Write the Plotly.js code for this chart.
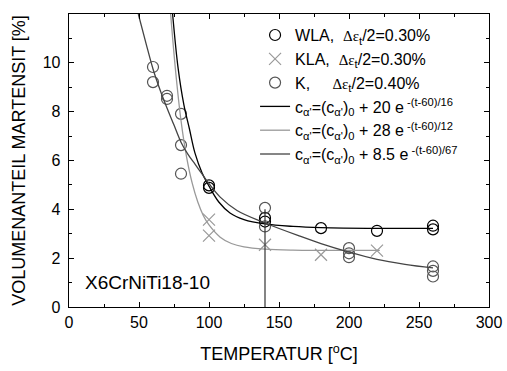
<!DOCTYPE html>
<html><head><meta charset="utf-8">
<script src="https://cdn.plot.ly/plotly-3.0.1.min.js"></script>
<style>html,body{margin:0;padding:0;background:#fff}#chart{width:507px;height:371px}</style>
</head><body><div id="chart"></div>
<script>
// Measured data
const wlaT = [100, 100, 140, 140, 180, 220, 260, 260];
const wlaV = [4.98, 4.88, 3.65, 3.5, 3.23, 3.12, 3.33, 3.18];
const klaT = [100, 100, 140, 180, 220];
const klaV = [3.58, 2.92, 2.55, 2.14, 2.31];
const kT = [60, 60, 70, 70, 80, 80, 80, 140, 140, 200, 200, 200, 260, 260, 260];
const kV = [9.83, 9.21, 8.65, 8.52, 7.91, 6.63, 5.46, 4.06, 3.3, 2.41, 2.2, 2.04, 1.66, 1.48, 1.25];
// Fit curves
const fitWlaT = [74, 78, 82, 86, 90, 95, 100, 107, 115, 125, 140, 160, 180, 220, 260];
const fitWlaV = [12.0, 9.75, 8.3, 7.3, 6.3, 5.5, 4.95, 4.3, 3.85, 3.58, 3.4, 3.3, 3.25, 3.22, 3.22];
const fitKlaT = [72.6, 76, 80, 84, 88, 92, 96, 100, 108, 116, 125, 140, 160, 180, 222];
const fitKlaV = [12.0, 9.75, 7.64, 6.14, 5.07, 4.3, 3.74, 3.36, 2.86, 2.6, 2.46, 2.37, 2.33, 2.32, 2.32];
const fitKT = [49.5, 55, 60, 65, 70, 75, 80, 85, 90, 95, 100, 108, 120, 140, 165, 180, 200, 220, 240, 260];
const fitKV = [12.0, 10.8, 9.75, 8.9, 8.15, 7.45, 6.75, 6.25, 5.85, 5.45, 5.05, 4.5, 3.95, 3.44, 2.9, 2.6, 2.25, 1.95, 1.75, 1.6];
const vlineT = [140, 140];
const vlineV = [0, 4.0];
const xTicks = [0, 50, 100, 150, 200, 250, 300];
const yTicks = [0, 2, 4, 6, 8, 10];
const yMinor = [1, 3, 5, 7, 9, 11];

const NB = '\u00A0';
const de = '<span style="font-family:\'Liberation Serif\';font-size:15px">Δε</span><sub>t</sub>/2=';
const traces = [
  {x: wlaT, y: wlaV, mode: 'markers', name: 'WLA,' + NB + NB + de + '0.30%',
   marker: {symbol: 'circle-open', size: 11, color: '#000', line: {width: 1.2, color: '#000'}}},
  {x: klaT, y: klaV, mode: 'markers', name: 'KLA,' + NB + NB + de + '0.30%',
   marker: {symbol: 'x-thin-open', size: 12, color: '#999', line: {width: 1.2, color: '#999'}}},
  {x: kT, y: kV, mode: 'markers', name: 'K,' + NB.repeat(5) + de + '0.40%',
   marker: {symbol: 'circle-open', size: 11, color: '#555', line: {width: 1.2, color: '#555'}}},
  {x: fitWlaT, y: fitWlaV, mode: 'lines', line: {color: '#000', width: 1.3, shape: 'spline'},
   name: "c<sub>α'</sub>=(c<sub>α'</sub>)<sub>0</sub> + 20 e<sup> -(t-60)/16</sup>"},
  {x: fitKlaT, y: fitKlaV, mode: 'lines', line: {color: '#999', width: 1.3, shape: 'spline'},
   name: "c<sub>α'</sub>=(c<sub>α'</sub>)<sub>0</sub> + 28 e<sup> -(t-60)/12</sup>"},
  {x: fitKT, y: fitKV, mode: 'lines', line: {color: '#444', width: 1.3, shape: 'spline'},
   name: "c<sub>α'</sub>=(c<sub>α'</sub>)<sub>0</sub> + 8.5 e<sup> -(t-60)/67</sup>"},
  {x: vlineT, y: vlineV, mode: 'lines', line: {color: '#333', width: 1.2}, showlegend: false, hoverinfo: 'skip'}
];

const axisCommon = {
  showgrid: false, zeroline: false, showline: true, linecolor: '#000', linewidth: 1.3,
  mirror: 'allticks', ticks: 'inside', ticklen: 5, tickwidth: 1, tickcolor: '#000',
  tickfont: {family: 'Arial, Liberation Sans, sans-serif', size: 16, color: '#000'}
};
const layout = {
  width: 507, height: 371,
  margin: {l: 69, r: 18, t: 14, b: 64},
  paper_bgcolor: '#fff', plot_bgcolor: '#fff',
  font: {family: 'Arial, Liberation Sans, sans-serif', color: '#000'},
  showlegend: true,
  legend: {x: 0.443, y: 0.986, xanchor: 'left', yanchor: 'top', bgcolor: 'rgba(0,0,0,0)',
    font: {size: 16, family: 'Arial, Liberation Sans, sans-serif'}, tracegroupgap: 0, itemwidth: 30},
  xaxis: Object.assign({}, axisCommon, {
    range: [0, 300], tickmode: 'array', tickvals: xTicks, ticktext: xTicks.map(String),
    minor: {dtick: 25, tick0: 0, ticks: 'inside', ticklen: 3, tickcolor: '#000'},
    title: {text: 'TEMPERATUR [<sup>o</sup>C]', font: {size: 18}, standoff: 18}
  }),
  yaxis: Object.assign({}, axisCommon, {
    range: [0, 12], tickmode: 'array', tickvals: yTicks, ticktext: yTicks.map(String),
    minor: {tickmode: 'array', tickvals: yMinor, ticks: 'inside', ticklen: 3, tickcolor: '#000'},
    ticklabelstandoff: 4,
    title: {text: 'VOLUMENANTEIL MARTENSIT [%]', font: {size: 18}, standoff: 12}
  }),
  annotations: [{xref: 'paper', yref: 'paper', x: 0.033, y: 0.082, xanchor: 'left', yanchor: 'middle',
    text: 'X6CrNiTi18-10', showarrow: false, font: {size: 19, color: '#000'}}]
};
Plotly.newPlot('chart', traces, layout, {displayModeBar: false, staticPlot: true});
</script></body></html>
